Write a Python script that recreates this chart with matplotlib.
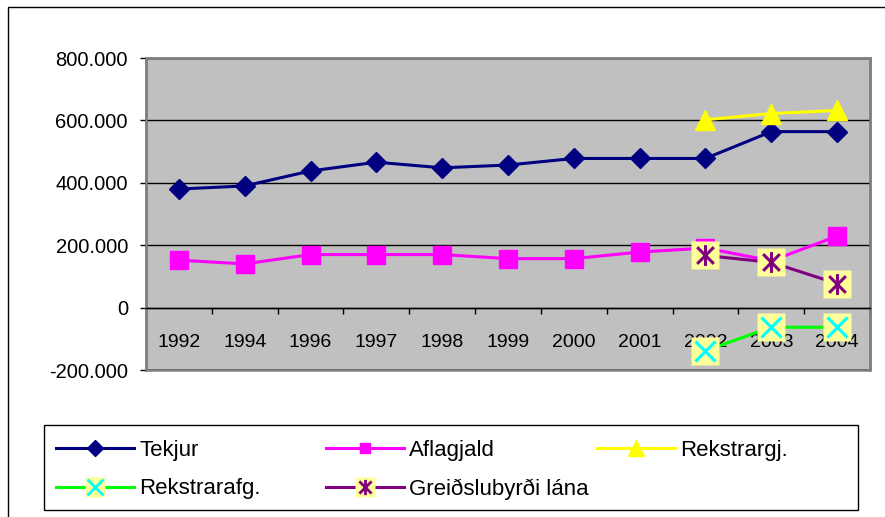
import matplotlib
matplotlib.use('Agg')
import matplotlib.pyplot as plt
from matplotlib.path import Path
from matplotlib.patches import Rectangle
from matplotlib.lines import Line2D
from matplotlib.legend_handler import HandlerTuple
from matplotlib.ticker import FuncFormatter, FixedLocator

plt.rcParams['font.family'] = ['Liberation Sans', 'DejaVu Sans']

years = ['1992', '1994', '1996', '1997', '1998', '1999', '2000', '2001', '2002', '2003', '2004']
tekjur = [380000, 390000, 438000, 466000, 448000, 457000, 478000, 478000, 478000, 564000, 564000]
aflagjald = [152000, 140000, 170000, 170000, 170000, 157000, 157000, 178000, 191000, 150000, 229000]
rekstrargj_years = ['2002', '2003', '2004']
rekstrargj = [602000, 622000, 632000]
rekstrarafg = [-138000, -63000, -63000]
greidslubyrdi = [167000, 145000, 77000]

x_all = list(range(len(years)))
x_last = [years.index(y) for y in rekstrargj_years]

# asterisk marker: x plus vertical bar
asterisk = Path([(-0.8, -0.8), (0.8, 0.8), (-0.8, 0.8), (0.8, -0.8), (0, -1), (0, 1)],
                [Path.MOVETO, Path.LINETO, Path.MOVETO, Path.LINETO, Path.MOVETO, Path.LINETO])

fig = plt.figure(figsize=(8.85, 5.17), dpi=100)
ax = fig.add_axes([146/885, 1-370/517, (870-146)/885, (370-58)/517])
ax.set_facecolor('#C0C0C0')

lw = 2.2
l1, = ax.plot(x_all, tekjur, color='#000080', lw=lw, marker='D', ms=10, zorder=4, clip_on=False)
l2, = ax.plot(x_all, aflagjald, color='#FF00FF', lw=lw, marker='s', ms=12.5, zorder=4, clip_on=False)
l3, = ax.plot(x_last, rekstrargj, color='#FFFF00', lw=lw, marker='^', ms=15, zorder=4, clip_on=False)
l4a, = ax.plot(x_last, rekstrarafg, color='#00FF00', lw=lw, marker='s', ms=20,
               mfc='#FFFF99', mec='none', zorder=5, clip_on=False)
l4b, = ax.plot(x_last, rekstrarafg, ls='none', marker='x', ms=15, mew=2.2, color='#00FFFF',
               zorder=5, clip_on=False)
l5a, = ax.plot(x_last, greidslubyrdi, color='#800080', lw=lw, marker='s', ms=20,
               mfc='#FFFF99', mec='none', zorder=5, clip_on=False)
l5b, = ax.plot(x_last, greidslubyrdi, ls='none', marker=asterisk, ms=15, mew=2.2, mfc='none',
               mec='#800080', zorder=5, clip_on=False)

ax.set_xlim(-0.5, len(years) - 0.5)
ax.set_ylim(-200000, 800000)
ax.set_yticks(range(-200000, 800001, 200000))
ax.yaxis.set_major_formatter(FuncFormatter(lambda v, p: '0' if v == 0 else f'{v:,.0f}'.replace(',', '.')))
ax.tick_params(axis='y', direction='out', length=4, width=1, pad=9, labelsize=14.5, colors='black')
ax.yaxis.grid(True, color='black', lw=1)
ax.set_axisbelow(True)

# x axis sits on the zero line, ticks between categories
ax.spines['bottom'].set_position(('data', 0))
ax.spines['bottom'].set_color('black')
ax.spines['bottom'].set_linewidth(1)
for s in ['left', 'top', 'right']:
    ax.spines[s].set_color('#808080')
    ax.spines[s].set_linewidth(1.8)
ax.patch.set_edgecolor('#808080')
ax.patch.set_linewidth(1.8)
ax.xaxis.set_major_locator(FixedLocator([i - 0.5 for i in range(len(years) + 1)]))
ax.xaxis.set_major_formatter(FuncFormatter(lambda v, p: ''))
ax.xaxis.set_minor_locator(FixedLocator(x_all))
ax.set_xticklabels(years, minor=True)
ax.tick_params(axis='x', which='major', direction='out', length=4, width=1)
ax.tick_params(axis='x', which='minor', length=0, pad=19, labelsize=14)

# figure border and legend box
fig.patches.append(Rectangle((8/885, -0.1), 1.2, 1.1 - 7/517, transform=fig.transFigure,
                             fill=False, edgecolor='black', lw=1))
fig.patches.append(Rectangle((44/885, 1-510/517), 814/885, 85/517, transform=fig.transFigure,
                             fill=False, edgecolor='black', lw=1))

# legend keys are drawn a bit smaller than the plot markers
h1 = Line2D([], [], color='#000080', lw=lw, marker='D', ms=8)
h2 = Line2D([], [], color='#FF00FF', lw=lw, marker='s', ms=6.5)
h3 = Line2D([], [], color='#FFFF00', lw=lw, marker='^', ms=11)
h4 = (Line2D([], [], color='#00FF00', lw=lw, marker='s', ms=15, mfc='#FFFF99', mec='none'),
      Line2D([], [], ls='none', marker='x', ms=11, mew=2, color='#00FFFF'))
h5 = (Line2D([], [], color='#800080', lw=lw, marker='s', ms=15, mfc='#FFFF99', mec='none'),
      Line2D([], [], ls='none', marker=asterisk, ms=11, mew=2, mfc='none', mec='#800080'))

leg_kw = dict(loc='upper left', frameon=False, fontsize=16, handlelength=3.5, handletextpad=0.25,
              borderpad=0, borderaxespad=0, labelspacing=0.78,
              handler_map={tuple: HandlerTuple(ndivide=1)})
top = 1 - 440/517
fig.legend([h1, h4], ['Tekjur', 'Rekstrarafg.'], bbox_to_anchor=(56/885, top), **leg_kw)
fig.legend([h2, h5], ['Aflagjald', 'Greiðslubyrði lána'], bbox_to_anchor=(326/885, top), **leg_kw)
fig.legend([h3], ['Rekstrargj.'], bbox_to_anchor=(597/885, top), **leg_kw)

fig.savefig('out.png', dpi=100)
